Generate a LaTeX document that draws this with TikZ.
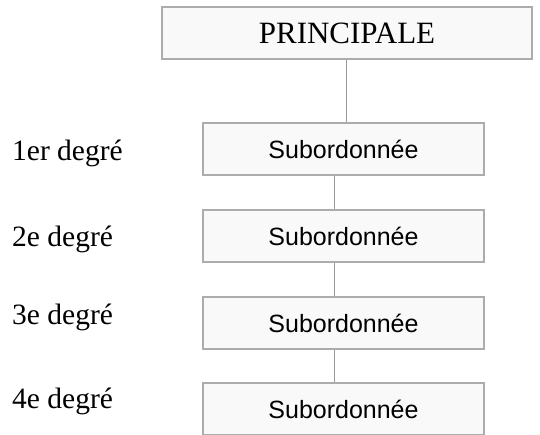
\documentclass[tikz,border=0pt]{standalone}
\usepackage{fontspec}
\setmainfont{Liberation Serif}
\newfontfamily\arialf{Liberation Sans}
\usetikzlibrary{shadows}
\tikzset{
  box/.style={draw=gray!65, line width=1.1pt, fill=gray!5, minimum height=52pt,
    drop shadow={shadow xshift=1.2pt, shadow yshift=-1.2pt, opacity=0.35, fill=gray}},
  subbox/.style={box, minimum width=281pt, font=\arialf\fontsize{25}{28}\selectfont},
  mainbox/.style={box, minimum width=370pt, font=\fontsize{31}{34}\selectfont},
  lbl/.style={anchor=west, font=\fontsize{29.5}{32}\selectfont, inner sep=0pt},
  conn/.style={draw=gray!80, line width=0.9pt}
}
\begin{document}
\begin{tikzpicture}[x=1pt,y=-1pt]
\useasboundingbox (0,0) rectangle (540,434);
\begin{scope}
\clip (0,0) rectangle (540,434);
\node[mainbox] (p) at (347,33) {PRINCIPALE};
\node[subbox] (b1) at (343.5,149) {Subordonnée};
\node[subbox] (b2) at (343.5,236) {Subordonnée};
\node[subbox] (b3) at (343.5,323) {Subordonnée};
\node[subbox] (b4) at (343.5,409) {Subordonnée};
\end{scope}
\node[lbl] (l1) at (12,153) {1er degré};
\node[lbl] (l2) at (12,239) {2e degré};
\node[lbl] (l3) at (12,317) {3e degré};
\node[lbl] (l4) at (12,401) {4e degré};
\draw[conn] ([xshift=-1pt]p.south) -- ([xshift=-1pt]p.south |- b1.north);
\draw[conn] ([xshift=-9.5pt]b1.south) -- ([xshift=-9.5pt]b2.north);
\draw[conn] ([xshift=-9.5pt]b2.south) -- ([xshift=-9.5pt]b3.north);
\draw[conn] ([xshift=-9.5pt]b3.south) -- ([xshift=-9.5pt]b4.north);
\end{tikzpicture}
\end{document}
